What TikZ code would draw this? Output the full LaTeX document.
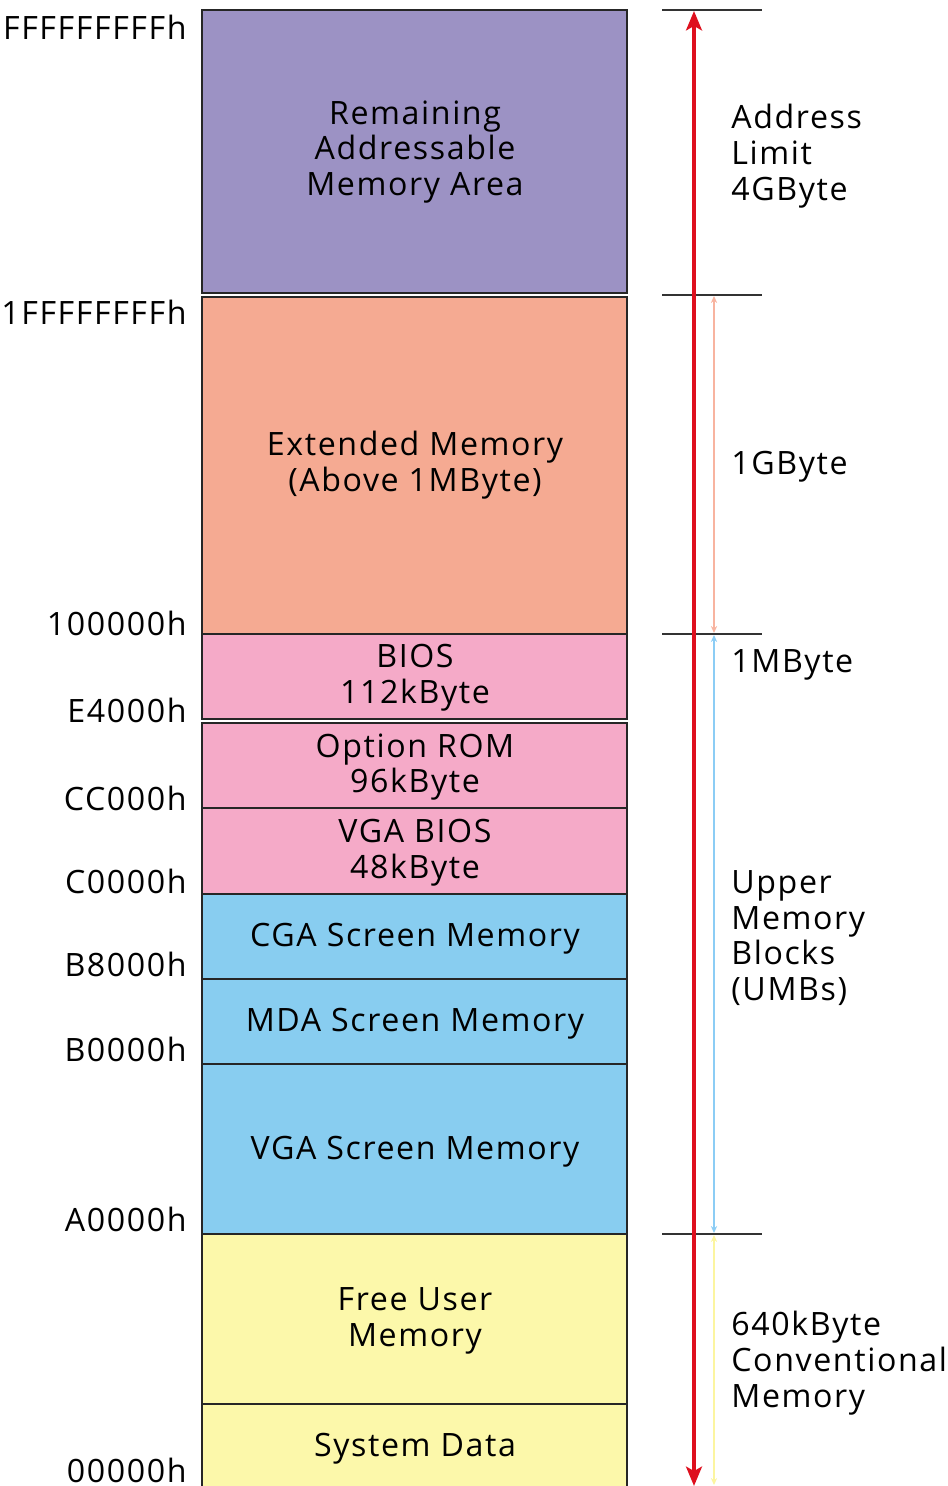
\documentclass[tikz,border=0pt]{standalone}
\usepackage{fontspec}
\setmainfont{Open Sans}[LetterSpace = 5]
\usetikzlibrary{arrows.meta}

\definecolor{remcol}{RGB}{156,146,196}
\definecolor{extcol}{RGB}{245,170,146}
\definecolor{romcol}{RGB}{245,170,200}
\definecolor{scrcol}{RGB}{136,205,240}
\definecolor{convcol}{RGB}{252,248,170}
\definecolor{limred}{RGB}{222,16,30}
\definecolor{extarrow}{RGB}{248,180,160}
\definecolor{umbarrow}{RGB}{140,205,245}
\definecolor{convarrow}{RGB}{252,245,160}

\tikzset{
    membox/.style = {draw = black!85, line width = 1.1pt},
    blocktext/.style = {align = center, inner sep = 0pt},
    addr/.style = {anchor = base east, inner sep = 0pt},
    sizetext/.style = {align = left, anchor = north west, inner sep = 0pt},
    tickline/.style = {draw = black!80, line width = 0.6pt},
    span/.style = {line width = 0.6pt, {Stealth[length = 4pt, width = 3.6pt]}-{Stealth[length = 4pt, width = 3.6pt]}}
}

\begin{document}
\begin{tikzpicture}[x = 0.02cm, y = -0.02cm, every node/.append style = {font = \fontsize{18.3}{20.4}\selectfont}]
    \useasboundingbox (0,0) rectangle (947,1486);
    % memory blocks
    \begin{scope}[membox]
        \draw[fill = remcol] (202,10) rectangle (627,293);
        \draw[fill = extcol] (202,297) rectangle (627,634);
        \draw[fill = romcol] (202,634) rectangle (627,719);
        \draw[fill = romcol] (202,723) rectangle (627,808);
        \draw[fill = romcol] (202,808) rectangle (627,894);
        \draw[fill = scrcol] (202,894) rectangle (627,979);
        \draw[fill = scrcol] (202,979) rectangle (627,1064);
        \draw[fill = scrcol] (202,1064) rectangle (627,1234);
        \draw[fill = convcol] (202,1234) rectangle (627,1404);
        \draw[fill = convcol] (202,1404) rectangle (627,1500);
    \end{scope}
    \node[blocktext] (remain) at (415,152) {Remaining\\Addressable\\Memory Area};
    \node[blocktext] (extmem) at (415,465) {Extended Memory\\(Above 1MByte)};
    \node[blocktext] (bios) at (415,678) {BIOS\\112kByte};
    \node[blocktext] (optrom) at (415,767) {Option ROM\\96kByte};
    \node[blocktext] (vgabios) at (415,853) {VGA BIOS\\48kByte};
    \node[blocktext] (cga) at (415,939) {CGA Screen Memory};
    \node[blocktext] (mda) at (415,1024) {MDA Screen Memory};
    \node[blocktext] (vgascr) at (415,1152) {VGA Screen Memory};
    \node[blocktext] (freemem) at (415,1321) {Free User\\Memory};
    \node[blocktext] (sysdata) at (415,1449) {System Data};

    % addresses
    \foreach \y/\lab in {40/FFFFFFFFFh, 325/1FFFFFFFFh, 635/100000h, 722/E4000h, 810/CC000h,
                         893/C0000h, 976/B8000h, 1061/B0000h, 1231/A0000h, 1482/00000h}
        \node[addr] (addr\y) at (187,\y) {\lab};

    % size marks
    \foreach \y [count = \i] in {10, 295, 634, 1234}
        \draw[tickline] (662,\y) coordinate (tl\i) -- (762,\y) coordinate (tr\i);
    \coordinate (limtop) at (694,11);
    \coordinate (limbot) at (694,1486);
    \draw[limred, line width = 2.3pt, {Stealth[length = 11pt, width = 9pt, inset = 2.5pt]}-{Stealth[length = 11pt, width = 9pt, inset = 2.5pt]}] (limtop) -- (limbot);
    \draw[span, extarrow] (714,296) coordinate (exttop) -- (714,633) coordinate (extbot);
    \draw[span, umbarrow] (714,635) coordinate (umbtop) -- (714,1233) coordinate (umbbot);
    \draw[span, convarrow] (714,1235) coordinate (convtop) -- (714,1485) coordinate (convbot);

    \node[sizetext] (limit) at (731,104) {Address\\Limit\\4GByte};
    \node[anchor = base west, inner sep = 0pt] (onegb) at (731,474) {1GByte};
    \node[anchor = base west, inner sep = 0pt] (onemb) at (731,672) {1MByte};
    \node[sizetext] (umb) at (731,870) {Upper\\Memory\\Blocks\\(UMBs)};
    \node[sizetext] (conv) at (731,1311) {640kByte\\Conventional\\Memory};
\end{tikzpicture}
\end{document}
